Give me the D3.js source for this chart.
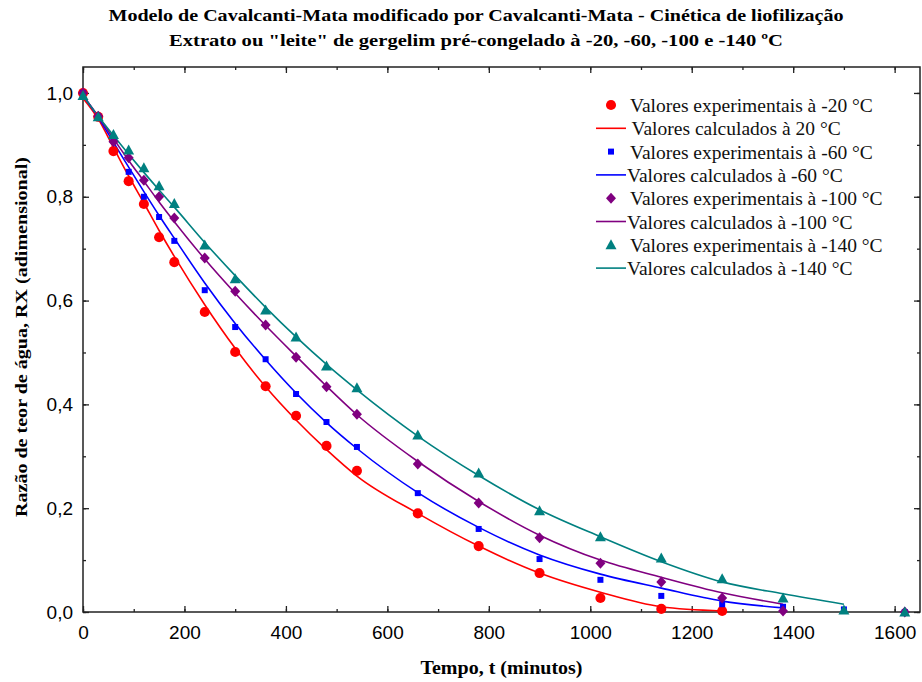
<!DOCTYPE html>
<html>
<head>
<meta charset="utf-8">
<script src="https://cdn.jsdelivr.net/npm/d3@7"></script>
<style>
  html, body { margin: 0; padding: 0; background: #fff; }
  svg { display: block; }
</style>
</head>
<body>
<div id="chart"></div>
<script>
// Cinética de liofilização — Cavalcanti-Mata, RX vs tempo

const times = [0, 30, 60, 90, 120, 150, 180, 240, 300, 360, 420, 480, 540, 660, 780, 900, 1020, 1140, 1260, 1380, 1500, 1620];

// experimental points (null = not plotted)
const expM20  = [1.0, 0.954, 0.888, 0.83, 0.786, 0.722, 0.674, 0.578, 0.501, 0.435, 0.378, 0.32, 0.272, 0.19, 0.127, 0.075, 0.027, 0.006, 0.002, null, null, null];
const expM60  = [1.0, 0.955, 0.912, 0.848, 0.80, 0.761, 0.715, 0.62, 0.549, 0.487, 0.42, 0.366, 0.318, 0.229, 0.16, 0.102, 0.062, 0.031, 0.015, 0.01, 0.005, 0.0];
const expM100 = [1.0, 0.955, 0.906, 0.875, 0.832, 0.80, 0.759, 0.682, 0.618, 0.553, 0.491, 0.434, 0.381, 0.285, 0.21, 0.143, 0.094, 0.058, 0.027, 0.002, null, 0.0];
const expM140 = [0.995, 0.954, 0.92, 0.89, 0.856, 0.821, 0.787, 0.707, 0.642, 0.582, 0.53, 0.474, 0.432, 0.341, 0.268, 0.195, 0.145, 0.104, 0.064, 0.027, 0.004, 0.0];

// calculated (model) curves
const calcM20  = [0.99, 0.95, 0.895, 0.84, 0.788, 0.735, 0.685, 0.592, 0.508, 0.434, 0.37, 0.313, 0.262, 0.19, 0.127, 0.075, 0.038, 0.01, 0.002];
const calcM60  = [0.995, 0.953, 0.905, 0.857, 0.81, 0.764, 0.72, 0.634, 0.556, 0.486, 0.422, 0.365, 0.315, 0.23, 0.163, 0.11, 0.073, 0.046, 0.021, 0.008];
const calcM100 = [0.995, 0.955, 0.912, 0.87, 0.83, 0.79, 0.752, 0.68, 0.614, 0.552, 0.493, 0.435, 0.38, 0.29, 0.213, 0.148, 0.1, 0.067, 0.037, 0.015];
const calcM140 = [0.995, 0.955, 0.918, 0.882, 0.847, 0.813, 0.78, 0.712, 0.648, 0.587, 0.53, 0.477, 0.428, 0.339, 0.263, 0.197, 0.145, 0.097, 0.058, 0.035, 0.015];

const xTicks = [0, 200, 400, 600, 800, 1000, 1200, 1400, 1600];
const yTicks = [0, 0.2, 0.4, 0.6, 0.8, 1.0];

const titleLines = [
  'Modelo de Cavalcanti-Mata modificado por Cavalcanti-Mata - Cinética de liofilização',
  'Extrato ou "leite" de gergelim pré-congelado à -20, -60, -100 e -140 ºC'
];
const xTitle = 'Tempo, t (minutos)';
const yTitle = 'Razão de teor de água, RX (adimensional)';

const series = [
  { exp: expM20,  calc: calcM20,  color: '#ff0000', shape: 'circle',
    expLabel: 'Valores experimentais à -20 °C', calcLabel: ' Valores calculados à 20 °C' },
  { exp: expM60,  calc: calcM60,  color: '#0000ff', shape: 'square',
    expLabel: 'Valores experimentais à -60 °C', calcLabel: 'Valores calculados à -60 °C' },
  { exp: expM100, calc: calcM100, color: '#800080', shape: 'diamond',
    expLabel: 'Valores experimentais à -100 °C', calcLabel: 'Valores calculados à -100 °C' },
  { exp: expM140, calc: calcM140, color: '#008080', shape: 'triangle',
    expLabel: 'Valores experimentais à -140 °C', calcLabel: 'Valores calculados à -140 °C' }
];

(function() {
  const width = 922, height = 682;
  const margin = { top: 67, right: 2, bottom: 70, left: 83 };
  const serif = '"Liberation Serif", "Times New Roman", serif';
  const sans = '"Liberation Sans", Arial, sans-serif';

  const svg = d3.select('#chart').append('svg')
    .attr('width', width)
    .attr('height', height);

  const x = d3.scaleLinear().domain([0, 1650]).range([margin.left, width - margin.right]);
  const y = d3.scaleLinear().domain([0, 1.05]).range([height - margin.bottom, margin.top]);

  // titles
  svg.append('g').selectAll('text')
    .data(titleLines)
    .enter().append('text')
    .attr('x', 476)
    .attr('y', (d, i) => 21 + i * 25)
    .attr('text-anchor', 'middle')
    .attr('textLength', (d, i) => i === 0 ? 735 : 614)
    .attr('lengthAdjust', 'spacingAndGlyphs')
    .style('font-family', serif)
    .style('font-size', '17px')
    .style('font-weight', 700)
    .text(d => d);

  const axisColor = '#222';
  const fmt = d3.format('.1f');
  const comma = d => fmt(d).replace('.', ',');

  // minor ticks (all four sides, inward)
  const minorX = d3.range(0, 1700, 100);
  const minorY = d3.range(0, 1.05, 0.1);
  const y0 = y(0), y1 = y.range()[1], x0 = x.range()[0], x1 = x.range()[1];

  function styleAxis(g) {
    g.selectAll('path').remove();
    g.selectAll('line').attr('stroke', axisColor).attr('stroke-width', 1.3);
  }

  svg.append('g').attr('transform', `translate(0,${y0})`)
    .call(d3.axisBottom(x).tickValues(minorX).tickSize(-3).tickFormat(''))
    .call(styleAxis);
  svg.append('g').attr('transform', `translate(0,${y1})`)
    .call(d3.axisTop(x).tickValues(minorX).tickSize(-3).tickFormat(''))
    .call(styleAxis);
  svg.append('g').attr('transform', `translate(${x0},0)`)
    .call(d3.axisLeft(y).tickValues(minorY).tickSize(-3).tickFormat(''))
    .call(styleAxis);
  svg.append('g').attr('transform', `translate(${x1},0)`)
    .call(d3.axisRight(y).tickValues(minorY).tickSize(-3).tickFormat(''))
    .call(styleAxis);

  // major ticks
  const xAxis = svg.append('g').attr('transform', `translate(0,${y0})`)
    .call(d3.axisBottom(x).tickValues(xTicks).tickSize(-6).tickPadding(14).tickFormat(d3.format('d')))
    .call(styleAxis);
  xAxis.selectAll('text').style('font-family', sans).style('font-size', '19px').attr('fill', '#000');

  svg.append('g').attr('transform', `translate(0,${y1})`)
    .call(d3.axisTop(x).tickValues(xTicks).tickSize(-6).tickFormat(''))
    .call(styleAxis);

  const yAxis = svg.append('g').attr('transform', `translate(${x0},0)`)
    .call(d3.axisLeft(y).tickValues(yTicks).tickSize(-6).tickPadding(10).tickFormat(comma))
    .call(styleAxis);
  yAxis.selectAll('text').style('font-family', sans).style('font-size', '19px').attr('fill', '#000');

  svg.append('g').attr('transform', `translate(${x1},0)`)
    .call(d3.axisRight(y).tickValues(yTicks).tickSize(-6).tickFormat(''))
    .call(styleAxis);

  // frame
  svg.append('rect')
    .attr('x', x0).attr('y', y1)
    .attr('width', x1 - x0).attr('height', y0 - y1)
    .attr('fill', 'none')
    .attr('stroke', axisColor)
    .attr('stroke-width', 1.5);

  // axis titles
  svg.append('text')
    .attr('x', (x0 + x1) / 2)
    .attr('y', 674)
    .attr('text-anchor', 'middle')
    .attr('textLength', 162)
    .attr('lengthAdjust', 'spacingAndGlyphs')
    .style('font-family', serif)
    .style('font-size', '18.5px')
    .style('font-weight', 700)
    .text(xTitle);

  svg.append('text')
    .attr('transform', 'translate(27,337) rotate(-90)')
    .attr('text-anchor', 'middle')
    .attr('textLength', 360)
    .attr('lengthAdjust', 'spacingAndGlyphs')
    .style('font-family', serif)
    .style('font-size', '17.5px')
    .style('font-weight', 700)
    .text(yTitle);

  // marker shapes
  function shapePath(shape) {
    if (shape === 'circle') return d3.symbol(d3.symbolCircle, 80)();
    if (shape === 'square') return 'M-3,-3H3V3H-3Z';
    if (shape === 'diamond') return 'M0,-5.5L5,0L0,5.5L-5,0Z';
    return 'M0,-5.5L5.5,4.5L-5.5,4.5Z';
  }

  const line = d3.line()
    .x(d => x(d[0]))
    .y(d => y(d[1]))
    .curve(d3.curveMonotoneX);

  series.forEach(s => {
    const pts = s.calc.map((v, i) => [times[i], v]);
    svg.append('path')
      .datum(pts)
      .attr('fill', 'none')
      .attr('stroke', s.color)
      .attr('stroke-width', 1.6)
      .attr('d', line);
  });

  series.forEach(s => {
    const pts = s.exp.map((v, i) => [times[i], v]).filter(d => d[1] !== null);
    svg.append('g').selectAll('path')
      .data(pts)
      .enter().append('path')
      .attr('transform', d => `translate(${x(d[0])},${y(d[1])})`)
      .attr('d', shapePath(s.shape))
      .attr('fill', s.color);
  });

  // legend
  const legendRows = [];
  series.forEach(s => {
    legendRows.push({ type: 'exp', s: s, label: s.expLabel });
    legendRows.push({ type: 'calc', s: s, label: s.calcLabel });
  });

  const legend = svg.append('g');
  legendRows.forEach((r, i) => {
    const cy = 106 + i * 23.3;
    if (r.type === 'exp') {
      legend.append('path')
        .attr('transform', `translate(611,${cy - 1})`)
        .attr('d', shapePath(r.s.shape))
        .attr('fill', r.s.color);
    } else {
      legend.append('line')
        .attr('x1', 596).attr('x2', 626)
        .attr('y1', cy - 1).attr('y2', cy - 1)
        .attr('stroke', r.s.color)
        .attr('stroke-width', 1.6);
    }
    legend.append('text')
      .attr('x', r.type === 'exp' ? 630 : 627)
      .attr('y', cy + 6)
      .attr('xml:space', 'preserve')
      .style('white-space', 'pre')
      .style('font-family', serif)
      .style('font-size', '19.5px')
      .attr('fill', '#111')
      .text(r.label);
  });
})();
</script>
</body>
</html>
